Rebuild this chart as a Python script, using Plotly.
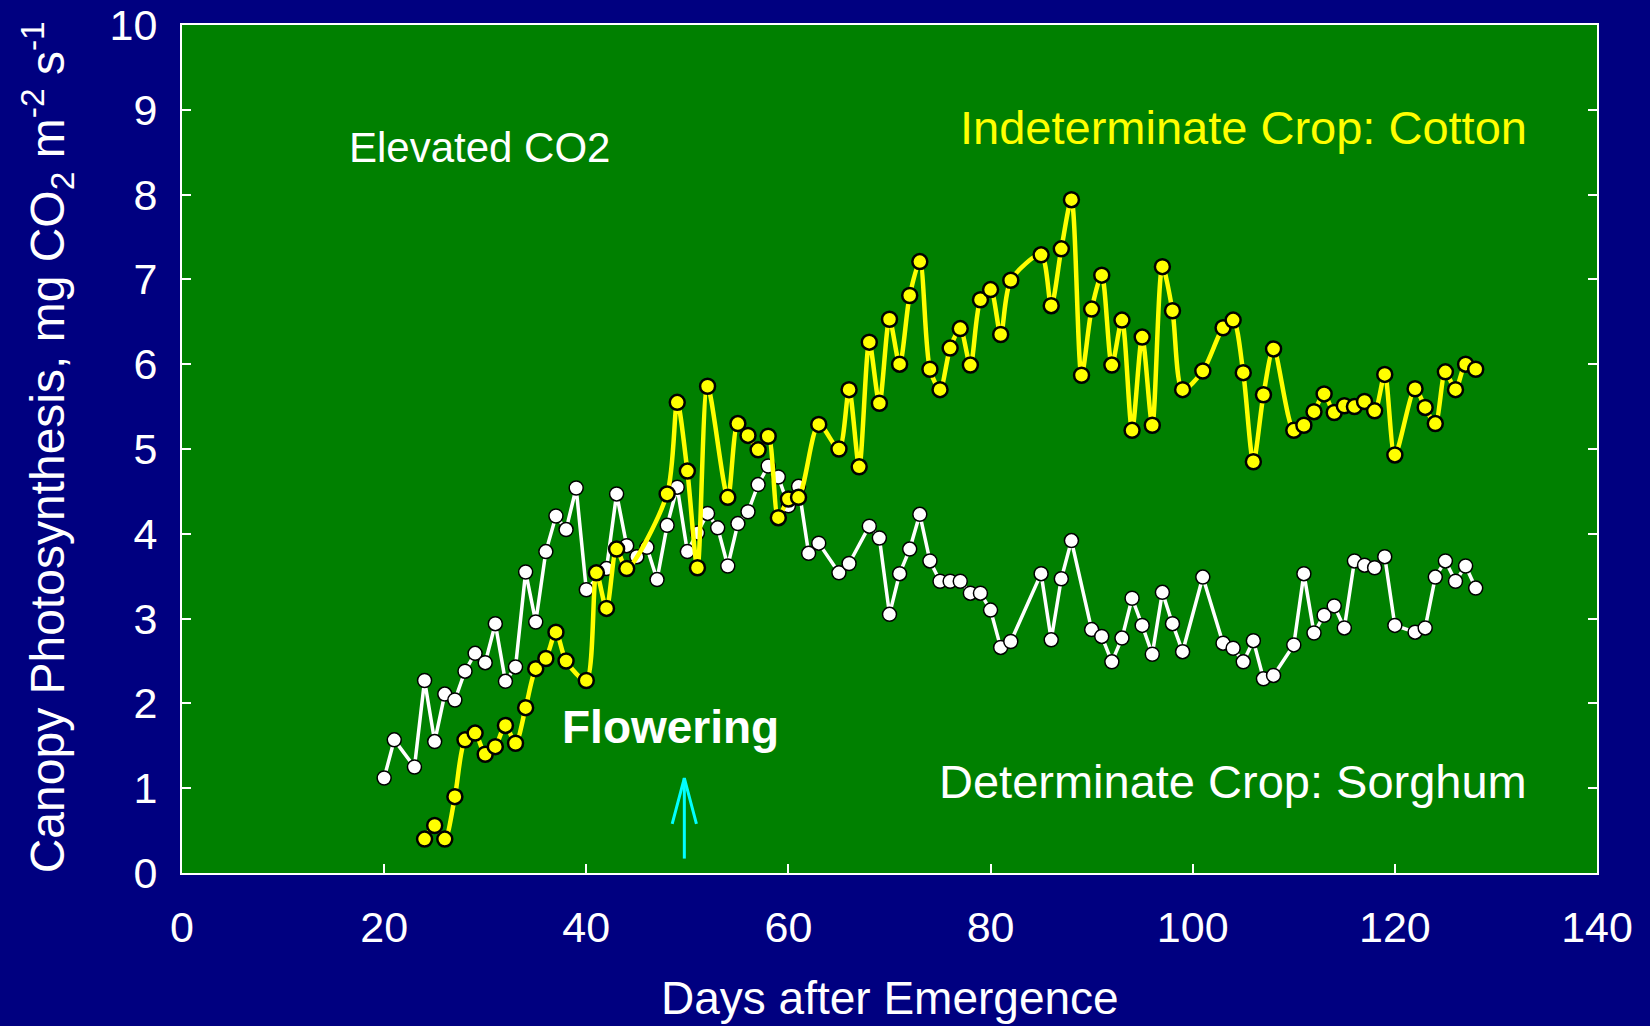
import plotly.graph_objects as go

# ---- data ----
sorghum_days = [20, 21, 23, 24, 25, 26, 27, 28, 29, 30, 31, 32, 33, 34, 35, 36, 37, 38, 39, 40,
                42, 43, 44, 45, 46, 47, 48, 49, 50, 51, 52, 53, 54, 55, 56, 57, 58, 59, 60, 61,
                62, 63, 65, 66, 68, 69, 70, 71, 72, 73, 74, 75, 76, 77, 78, 79, 80, 81, 82,
                85, 86, 87, 88, 90, 91, 92, 93, 94, 95, 96, 97, 98, 99, 101, 103, 104, 105,
                106, 107, 108, 110, 111, 112, 113, 114, 115, 116, 117, 118, 119, 120, 122,
                123, 124, 125, 126, 127, 128]
sorghum_values = [1.12, 1.57, 1.25, 2.27, 1.55, 2.11, 2.04, 2.38, 2.59, 2.48, 2.94, 2.26, 2.43,
                  3.55, 2.96, 3.79, 4.21, 4.05, 4.54, 3.34,
                  3.59, 4.47, 3.86, 3.73, 3.84, 3.46, 4.10, 4.55, 3.79, 4.01, 4.24, 4.07, 3.62,
                  4.12, 4.26, 4.58, 4.80, 4.67, 4.33, 4.56,
                  3.77, 3.89, 3.54, 3.65, 4.09, 3.95, 3.05, 3.53, 3.82, 4.23, 3.68, 3.44, 3.44,
                  3.44, 3.30, 3.30, 3.10, 2.66, 2.73,
                  3.53, 2.75, 3.47, 3.92, 2.87, 2.79, 2.49, 2.77, 3.24, 2.92, 2.58, 3.31, 2.94,
                  2.61, 3.49, 2.71, 2.65, 2.49,
                  2.74, 2.29, 2.33, 2.69, 3.53, 2.83, 3.04, 3.15, 2.89, 3.68, 3.63, 3.60, 3.73,
                  2.92, 2.84,
                  2.89, 3.49, 3.68, 3.44, 3.62, 3.36]

cotton_days = [24, 25, 26, 27, 28, 29, 30, 31, 32, 33, 34, 35, 36, 37, 38, 40, 41, 42, 43, 44,
               48, 49, 50, 51, 52, 54, 55, 56, 57, 58, 59, 60, 61, 63, 65, 66, 67, 68, 69, 70,
               71, 72, 73, 74, 75, 76, 77, 78, 79, 80, 81, 82, 85, 86, 87, 88, 89, 90, 91, 92,
               93, 94, 95, 96, 97, 98, 99, 101, 103, 104, 105, 106, 107, 108, 110, 111, 112,
               113, 114, 115, 116, 117, 118, 119, 120, 122, 123, 124, 125, 126, 127, 128]
cotton_values = [0.40, 0.56, 0.40, 0.90, 1.57, 1.65, 1.40, 1.49, 1.74, 1.53, 1.95, 2.41, 2.53,
                 2.84, 2.50, 2.27, 3.54, 3.12, 3.82, 3.59,
                 4.47, 5.55, 4.74, 3.60, 5.74, 4.43, 5.30, 5.16, 4.99, 5.15, 4.19, 4.41, 4.43,
                 5.29, 5.00, 5.70, 4.79, 6.26, 5.54, 6.53,
                 6.00, 6.81, 7.21, 5.94, 5.70, 6.19, 6.42, 5.99, 6.76, 6.88, 6.35, 6.99, 7.29,
                 6.69, 7.36, 7.94, 5.87, 6.65, 7.05, 5.99,
                 6.52, 5.22, 6.32, 5.28, 7.15, 6.63, 5.70, 5.92, 6.43, 6.52, 5.90, 4.85, 5.64,
                 6.18, 5.22, 5.28, 5.44,
                 5.65, 5.43, 5.51, 5.50, 5.56, 5.45, 5.88, 4.93, 5.71, 5.49, 5.30, 5.91, 5.70,
                 6.00, 5.94]

x_ticks = [0, 20, 40, 60, 80, 100, 120, 140]
y_ticks = [0, 1, 2, 3, 4, 5, 6, 7, 8, 9, 10]

flower_day = 49.7
arrow_top = 1.12
arrow_bottom = 0.17
head_dx = 1.2
head_dy = 0.54

NAVY = "#000080"
GREEN = "#008000"
FONT = "Liberation Sans, Arial, sans-serif"

fig = go.Figure()

fig.add_trace(go.Scatter(
    x=sorghum_days, y=sorghum_values, mode="lines+markers",
    line=dict(color="white", width=3.5),
    marker=dict(size=14, color="white", line=dict(color="black", width=1.5)),
    showlegend=False, hoverinfo="x+y"))

fig.add_trace(go.Scatter(
    x=cotton_days, y=cotton_values, mode="lines+markers",
    line=dict(color="#FFFF00", width=4.5, shape="spline", smoothing=0.8),
    marker=dict(size=15, color="#FFFF00", line=dict(color="black", width=2.5)),
    showlegend=False, hoverinfo="x+y"))

# flowering arrow (open V head)
fig.add_trace(go.Scatter(
    x=[flower_day, flower_day, None, flower_day - head_dx, flower_day, flower_day + head_dx],
    y=[arrow_bottom, arrow_top, None, arrow_top - head_dy, arrow_top, arrow_top - head_dy],
    mode="lines", line=dict(color="#00FFFF", width=3),
    showlegend=False, hoverinfo="skip"))

annotations = [
    dict(x=16.3, y=8.55, xref="x", yref="y", text="Elevated CO2", showarrow=False,
         xanchor="left", yanchor="middle", font=dict(family=FONT, size=42, color="white")),
    dict(x=133.3, y=8.79, xref="x", yref="y", text="Indeterminate Crop: Cotton", showarrow=False,
         xanchor="right", yanchor="middle", font=dict(family=FONT, size=47, color="#FFFF00")),
    dict(x=133.3, y=1.08, xref="x", yref="y", text="Determinate Crop: Sorghum", showarrow=False,
         xanchor="right", yanchor="middle", font=dict(family=FONT, size=47, color="white")),
    dict(x=48.3, y=1.72, xref="x", yref="y", text="<b>Flowering</b>", showarrow=False,
         xanchor="center", yanchor="middle", font=dict(family=FONT, size=46, color="white")),
    dict(x=-0.0954, y=0.502, xref="paper", yref="paper", textangle=-90,
         text="Canopy Photosynthesis, mg CO<sub>2</sub> m<sup>-2</sup> s<sup>-1</sup>",
         showarrow=False, xanchor="center", yanchor="middle",
         font=dict(family=FONT, size=48, color="white")),
    dict(x=0.5, y=-0.147, xref="paper", yref="paper", text="Days after Emergence",
         showarrow=False, xanchor="center", yanchor="middle",
         font=dict(family=FONT, size=46, color="white")),
]

fig.update_layout(
    width=1650, height=1026,
    paper_bgcolor=NAVY, plot_bgcolor=GREEN,
    margin=dict(l=182, r=53, t=25, b=153),
    font=dict(family=FONT, color="white"),
    annotations=annotations,
    xaxis=dict(range=[0, 140], tickvals=x_ticks, ticktext=[str(v) for v in x_ticks],
               showgrid=False, zeroline=False, showline=True, linecolor="white", linewidth=2,
               mirror=True, ticks="inside", ticklen=9, tickwidth=2, tickcolor="white",
               automargin=False,
               tickfont=dict(family=FONT, size=43, color="white"), ticklabelstandoff=15),
    yaxis=dict(range=[0, 10], tickvals=y_ticks, ticktext=[str(v) for v in y_ticks],
               showgrid=False, zeroline=False, showline=True, linecolor="white", linewidth=2,
               mirror="ticks", ticks="inside", ticklen=9, tickwidth=2, tickcolor="white",
               automargin=False,
               tickfont=dict(family=FONT, size=43, color="white"), ticklabelstandoff=14),
)

fig.write_html("out.html", config={"displayModeBar": False},
               post_script="document.body.style.margin='0';document.body.style.background='#000080';")
